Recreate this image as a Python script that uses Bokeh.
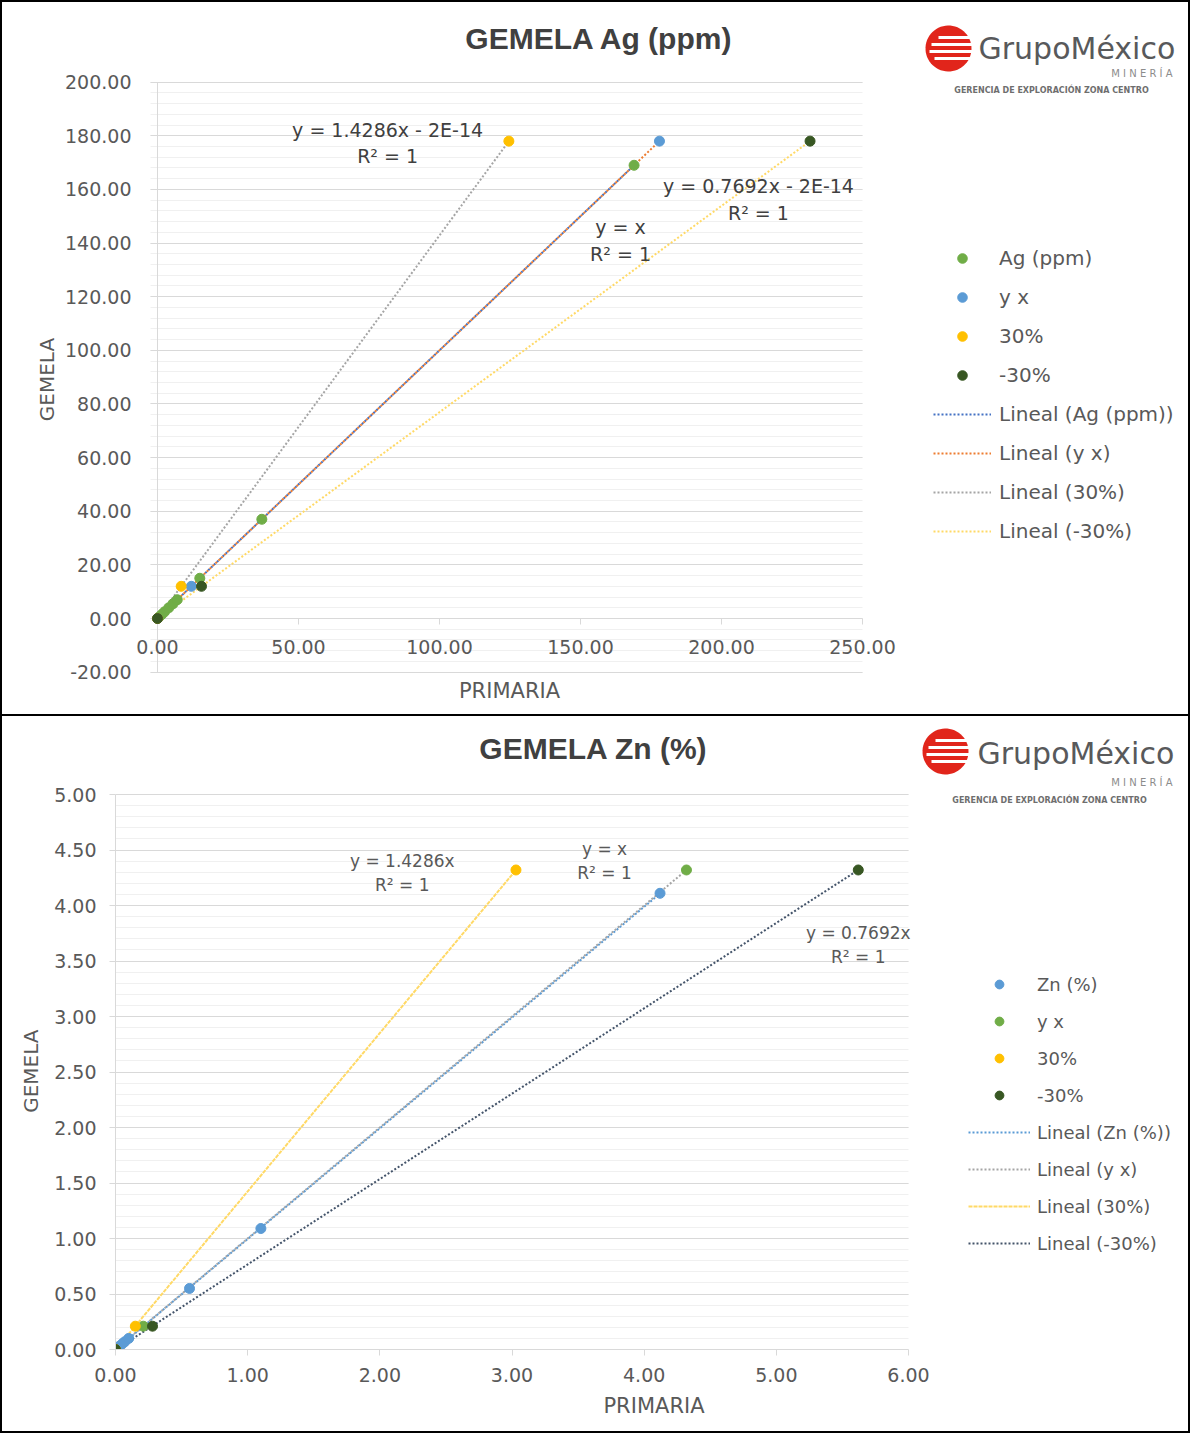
import numpy as np
from bokeh.plotting import figure
from bokeh.models import (Legend, LegendItem, Label, NumeralTickFormatter, Grid, FixedTicker,
                          SingleIntervalTicker, Range1d, PolyAnnotation, BoxAnnotation)
from bokeh.core.properties import value
from bokeh.embed import file_html
from bokeh.resources import INLINE

# ---------------- data: GEMELA Ag (ppm) ----------------
ag_x = [0.5, 1.5, 2.5, 4.0, 5.5, 7.0, 15.0, 37.0, 169.0]
ag_y = [0.5, 1.5, 2.5, 4.0, 5.5, 7.0, 15.0, 37.0, 169.0]
ag_yx_x = [0.0, 12.0, 178.0]
ag_yx_y = [0.0, 12.0, 178.0]
ag_p30_x = [0.0, 8.4, 124.6]
ag_p30_y = [0.0, 12.0, 178.0]
ag_m30_x = [0.0, 15.6, 231.4]
ag_m30_y = [0.0, 12.0, 178.0]
ag_labels = ["Ag (ppm)", "y x", "30%", "-30%"]
ag_trend_labels = ["Lineal (Ag (ppm))", "Lineal (y x)", "Lineal (30%)", "Lineal (-30%)"]
ag_xticks = [0, 50, 100, 150, 200, 250]
ag_xtick_labels = ["0.00", "50.00", "100.00", "150.00", "200.00", "250.00"]

# ---------------- data: GEMELA Zn (%) ----------------
zn_x = [0.01, 0.03, 0.05, 0.07, 0.10, 0.56, 1.10, 4.12]
zn_y = [0.01, 0.03, 0.05, 0.07, 0.10, 0.55, 1.09, 4.11]
zn_yx_x = [0.0, 0.21, 4.32]
zn_yx_y = [0.0, 0.21, 4.32]
zn_p30_x = [0.0, 0.15, 3.03]
zn_p30_y = [0.0, 0.21, 4.32]
zn_m30_x = [0.0, 0.28, 5.62]
zn_m30_y = [0.0, 0.21, 4.32]
zn_labels = ["Zn (%)", "y x", "30%", "-30%"]
zn_trend_labels = ["Lineal (Zn (%))", "Lineal (y x)", "Lineal (30%)", "Lineal (-30%)"]

FONT = "DejaVu Sans"
TXT = "#595959"
DARK = "#404040"
GRID = "#D9D9D9"
MINOR = "#F0F0F0"

GREEN = "#70AD47"
BLUE = "#5B9BD5"
YELLOW = "#FFC000"
DKGREEN = "#385723"

W = 1190
NB = "\u00A0"


def trend(x, y):
    m, b = np.polyfit(np.asarray(x), np.asarray(y), 1)
    xs = np.array([min(x), max(x)])
    return xs, m * xs + b


def add_logo(p, to_s, icon, text_pos, min_pos, ger_pos):
    cx, cy = to_s(*icon)
    t = np.linspace(0, 2 * np.pi, 60)
    r = 23
    p.add_layout(PolyAnnotation(xs=list(cx + r * np.cos(t)), ys=list(cy + r * np.sin(t)),
                                xs_units="screen", ys_units="screen",
                                fill_color="#E1251B", fill_alpha=1, line_color=None))
    for dy, x0 in [(11, -10), (4, -17), (-3, -19), (-10, -14)]:
        p.add_layout(BoxAnnotation(left=cx + x0, right=cx + 24, bottom=cy + dy - 1.5, top=cy + dy + 1.5,
                                   left_units="screen", right_units="screen",
                                   top_units="screen", bottom_units="screen",
                                   fill_color="white", fill_alpha=1, line_color=None))
    x, y = to_s(*text_pos)
    p.add_layout(Label(x=x, y=y, x_units="screen", y_units="screen", text="GrupoMéxico",
                       text_font=FONT, text_font_size="30px", text_color="#58595B",
                       text_align="left", text_baseline="middle"))
    x, y = to_s(*min_pos)
    p.add_layout(Label(x=x, y=y, x_units="screen", y_units="screen", text="M I N E R Í A",
                       text_font=FONT, text_font_size="10px", text_color="#8C8C8C",
                       text_align="right", text_baseline="middle"))
    x, y = to_s(*ger_pos)
    p.add_layout(Label(x=x, y=y, x_units="screen", y_units="screen",
                       text="GERENCIA DE EXPLORACIÓN ZONA CENTRO",
                       text_font=FONT, text_font_size="8px", text_font_style="bold",
                       text_color="#6E6E6E", text_align="center", text_baseline="middle"))


def style_axis(ax, fs):
    ax.axis_line_color = GRID
    ax.major_tick_line_color = GRID
    ax.major_tick_in = 0
    ax.major_tick_out = 6
    ax.minor_tick_line_color = None
    ax.major_label_text_font = FONT
    ax.major_label_text_font_size = fs
    ax.major_label_text_color = TXT
    ax.axis_label_text_font = FONT
    ax.axis_label_text_font_size = "20px"
    ax.axis_label_text_font_style = "normal"
    ax.axis_label_text_color = TXT
    ax.formatter = NumeralTickFormatter(format="0.00")


def build(p, series, lab, tlab, mcolors, tcolors, tdash, msize, legend_fs,
          lh, sp, gw, so, loc):
    lines = []
    for (x, y), c, d in zip(series, tcolors, tdash):
        xs, ys = trend(x, y)
        lines.append(p.line(xs, ys, line_color=c, line_width=2, line_dash=d))
    pts = []
    for (x, y), c in zip(series, mcolors):
        pts.append(p.scatter(x, y, size=msize, fill_color=c, line_color=c))
    items = [LegendItem(label=l, renderers=[r]) for l, r in zip(lab, pts)]
    items += [LegendItem(label=l, renderers=[r]) for l, r in zip(tlab, lines)]
    leg = Legend(items=items, location=loc, border_line_color=None,
                 background_fill_alpha=0, glyph_width=gw, glyph_height=lh,
                 label_height=lh, label_standoff=so, spacing=sp, padding=10, margin=0,
                 label_text_font=FONT, label_text_font_size=legend_fs,
                 label_text_color=TXT)
    p.add_layout(leg)


def base_style(p):
    p.outline_line_color = None
    p.background_fill_color = "white"
    p.border_fill_color = "white"
    p.xgrid.grid_line_color = None
    p.ygrid.grid_line_color = GRID
    p.ygrid.minor_grid_line_color = MINOR


# ================= TOP: Ag =================
H1 = 716
L1 = 133            # frame left (canvas px)
X0_1 = 155          # canvas px of x = 0
ZERO1 = 616         # canvas px of y = 0
PXX1 = 705 / 250.0
PXY1 = 590 / 220.0
p1 = figure(width=W, height=H1,
            x_range=Range1d(-(X0_1 - L1) / PXX1, (W - X0_1) / PXX1),
            y_range=Range1d(-(H1 - ZERO1) / PXY1, ZERO1 / PXY1),
            x_axis_location=None,
            output_backend="svg", toolbar_location=None,
            min_border_left=L1, min_border_right=0, min_border_top=0, min_border_bottom=0,
            styles={"border": "2px solid #000000"})
base_style(p1)
tick1 = SingleIntervalTicker(interval=20, num_minor_ticks=5)
p1.yaxis.ticker = tick1
p1.ygrid.ticker = tick1
p1.yaxis.bounds = (-20, 200)
p1.ygrid.bounds = (-20, 200)
# horizontal gridlines run from the axis (with a short tick stub) to x = 250
p1.ygrid.cross_bounds = (-7 / PXX1, 250)
style_axis(p1.yaxis[0], "19px")
p1.yaxis.axis_line_color = None
p1.yaxis.major_tick_line_color = None
p1.yaxis.major_tick_out = 0
p1.yaxis.major_label_standoff = 0
p1.yaxis.axis_label = "GEMELA" + NB * 6
p1.yaxis.axis_label_standoff = 3
# value axis line at x = 0 and x tick stubs below y = 0 (axes cross at 0)
p1.add_layout(Grid(dimension=0, ticker=FixedTicker(ticks=[0]), cross_bounds=(-20, 200),
                   grid_line_color=GRID))
p1.add_layout(Grid(dimension=0, ticker=FixedTicker(ticks=ag_xticks),
                   cross_bounds=(-6 / PXY1, 0), grid_line_color=GRID))

# x tick labels sit under the y = 0 line
p1.text(x=ag_xticks, y=[0] * len(ag_xticks), text=ag_xtick_labels, y_offset=28,
        text_font=value(FONT), text_font_size="19px", text_color=TXT,
        text_align="center", text_baseline="middle")

series1 = [(ag_x, ag_y), (ag_yx_x, ag_yx_y), (ag_p30_x, ag_p30_y), (ag_m30_x, ag_m30_y)]
build(p1, series1, ag_labels, ag_trend_labels,
      [GREEN, BLUE, YELLOW, DKGREEN],
      ["#4472C4", "#ED7D31", "#A5A5A5", "#FFD966"],
      ["2 2", "2 2", "2 2", "2 2"], 10, "20px", 24, 15, 58, 8, (801 + 130 - L1, 175))

for txt, x, y in [("y = 1.4286x - 2E-14\nR² = 1", 81.6, 177.3),
                  ("y = x\nR² = 1", 164.2, 140.9),
                  ("y = 0.7692x - 2E-14\nR² = 1", 213.1, 156.2)]:
    p1.add_layout(Label(x=x, y=y, text=txt, text_font=FONT, text_font_size="19px",
                        text_color=DARK, text_align="center", text_baseline="middle"))


def top_s(px, py):
    return px - 2 - L1, (H1 + 2) - py


x, y = top_s(599, 38)
p1.add_layout(Label(x=x, y=y, x_units="screen", y_units="screen", text="GEMELA Ag (ppm)",
                    text_font="Liberation Sans", text_font_size="30px", text_font_style="bold",
                    text_color=DARK, text_align="center", text_baseline="middle"))
x, y = top_s(509, 690)
p1.add_layout(Label(x=x, y=y, x_units="screen", y_units="screen", text="PRIMARIA",
                    text_font=FONT, text_font_size="21px", text_color=TXT,
                    text_align="center", text_baseline="middle"))
add_logo(p1, top_s, (948, 48), (978, 48), (1172, 73), (1051, 90))

# ================= BOTTOM: Zn =================
H2 = 717
L2 = 113            # frame left -> x = 0
B2 = 84             # bottom panel (x axis)
PXX2 = 793 / 6.0
PXY2 = 555 / 5.0
p2 = figure(width=W, height=H2,
            x_range=Range1d(0, (W - L2) / PXX2),
            y_range=Range1d(0, (H2 - B2) / PXY2),
            output_backend="svg", toolbar_location=None,
            min_border_left=L2, min_border_right=0, min_border_top=0, min_border_bottom=B2,
            styles={"border": "2px solid #000000", "border-top": "none"})
base_style(p2)
tick2 = SingleIntervalTicker(interval=0.5, num_minor_ticks=5)
p2.yaxis.ticker = tick2
p2.ygrid.ticker = tick2
p2.yaxis.bounds = (0, 5)
p2.ygrid.bounds = (0, 5)
p2.ygrid.cross_bounds = (0, 6)
p2.xaxis.ticker = SingleIntervalTicker(interval=1, num_minor_ticks=0)
p2.xaxis.bounds = (0, 6)
style_axis(p2.yaxis[0], "19px")
style_axis(p2.xaxis[0], "19px")
p2.yaxis.major_label_standoff = 13
p2.yaxis.axis_label = "GEMELA" + NB * 12
p2.yaxis.axis_label_standoff = 8
p2.xaxis.major_label_standoff = 12
p2.xaxis.axis_label = "PRIMARIA"
p2.xaxis.axis_label_text_font_size = "21px"
p2.xaxis.axis_label_standoff = 9

series2 = [(zn_x, zn_y), (zn_yx_x, zn_yx_y), (zn_p30_x, zn_p30_y), (zn_m30_x, zn_m30_y)]
build(p2, series2, zn_labels, zn_trend_labels,
      [BLUE, GREEN, YELLOW, DKGREEN],
      ["#5B9BD5", "#A5A5A5", "#FFD966", "#44546A"],
      ["2 2", "2 2", "4 1", "2 2"], 10, "18px", 22, 15, 62, 7, (853, 95))

for txt, x, y in [("y = 1.4286x\nR² = 1", 2.17, 4.29),
                  ("y = x\nR² = 1", 3.70, 4.40),
                  ("y = 0.7692x\nR² = 1", 5.62, 3.64)]:
    p2.add_layout(Label(x=x, y=y, text=txt, text_font=FONT, text_font_size="17px",
                        text_color=TXT, text_align="center", text_baseline="middle"))


def bot_s(px, py):
    return px - 2 - L2, (720 + H2 - B2) - py


x, y = bot_s(593, 752)
p2.add_layout(Label(x=x, y=y, x_units="screen", y_units="screen", text="GEMELA Zn (%)",
                    text_font="Liberation Sans", text_font_size="30px", text_font_style="bold",
                    text_color=DARK, text_align="center", text_baseline="middle"))
add_logo(p2, bot_s, (945, 755), (977, 757), (1172, 786), (1049, 804))

# two separate roots, stacked, so the plot frames are not aligned to each other
open("out.html", "w").write(file_html([p1, p2], INLINE))
